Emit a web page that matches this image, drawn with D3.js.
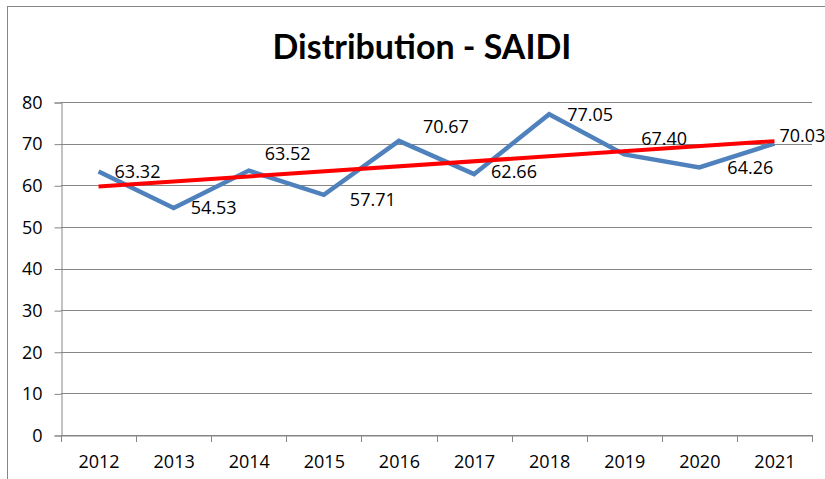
<!DOCTYPE html>
<html><head><meta charset="utf-8">
<script src="https://cdn.jsdelivr.net/npm/d3@7"></script>
<style>html,body{margin:0;padding:0;background:#fff;overflow:hidden}</style>
</head><body>
<svg id="chart" width="825" height="479"></svg>
<script>
const categories = ["2012","2013","2014","2015","2016","2017","2018","2019","2020","2021"];
const saidi = [63.32, 54.53, 63.52, 57.71, 70.67, 62.66, 77.05, 67.40, 64.26, 70.03];
const trendEnds = [59.7, 70.6]; // linear trend at 2012 and 2021
const yTicks = [0,10,20,30,40,50,60,70,80];
const title = "Distribution - SAIDI";
// label placement (dx, dy) relative to each point
const labelOffsets = [[16,0],[17,0],[16,-17],[26,5],[24,-14],[17,-2],[18,0],[17,-16],[28,0],[5,-8]];

const svg = d3.select("#chart");
const font = "'Open Sans', sans-serif";
const grid = "#868686";

svg.append("rect").attr("x",7.5).attr("y",6.5).attr("width",830).attr("height",490)
  .attr("fill","#fff").attr("stroke",grid).attr("stroke-width",1);

const L = 61, R = 812, T = 102, B = 435;
const x = d3.scaleBand().domain(categories).range([L,R]).padding(0);
const y = d3.scaleLinear().domain([0,80]).range([B,T]);

// gridlines
svg.append("g").selectAll("line").data(yTicks).join("line")
  .attr("x1",L).attr("x2",R).attr("y1",d=>Math.round(y(d))+0.5).attr("y2",d=>Math.round(y(d))+0.5)
  .attr("stroke",grid).attr("stroke-width",1);

// y axis
const yAxis = svg.append("g").attr("transform",`translate(${L+0.5},0.5)`)
  .call(d3.axisLeft(y).tickValues(yTicks).tickSize(7).tickPadding(12));
yAxis.select(".domain").attr("stroke",grid);
yAxis.selectAll(".tick line").attr("stroke",grid);
yAxis.selectAll("text").attr("font-family",font).attr("font-size",18).attr("fill","#000");

// x axis
const xAxis = svg.append("g").attr("transform",`translate(0.5,${B+0.5})`)
  .call(d3.axisBottom(x).tickSize(0).tickPadding(20));
xAxis.select(".domain").attr("stroke",grid);
xAxis.selectAll("text").attr("font-family",font).attr("font-size",18).attr("fill","#000");
const bounds = categories.map(c=>x(c)).concat([R]);
svg.append("g").selectAll("line").data(bounds).join("line")
  .attr("x1",d=>Math.round(d)+0.5).attr("x2",d=>Math.round(d)+0.5)
  .attr("y1",B).attr("y2",B+7).attr("stroke",grid);

const cx = c => x(c) + x.bandwidth()/2;

// data line
svg.append("path").datum(saidi)
  .attr("d", d3.line().x((d,i)=>cx(categories[i])).y(d=>y(d)))
  .attr("fill","none").attr("stroke","#4F81BD").attr("stroke-width",4.5).attr("stroke-linejoin","miter");

// trend line
svg.append("line")
  .attr("x1",cx(categories[0])).attr("y1",y(trendEnds[0]))
  .attr("x2",cx(categories[categories.length-1])).attr("y2",y(trendEnds[1]))
  .attr("stroke","#FF0000").attr("stroke-width",4);

// labels
svg.append("g").selectAll("text").data(saidi).join("text")
  .attr("x",(d,i)=>cx(categories[i])+labelOffsets[i][0])
  .attr("y",(d,i)=>y(d)+labelOffsets[i][1])
  .attr("dy","0.35em")
  .attr("font-family",font).attr("font-size",18).attr("fill","#000")
  .text(d=>d.toFixed(2));

// title
const t = svg.append("text").attr("x",422).attr("y",59).attr("text-anchor","middle")
  .attr("font-family","Lato, 'Open Sans', sans-serif").attr("font-weight","bold").attr("font-size",32)
  .attr("fill","#000").text(title);
const w = t.node().getComputedTextLength();
t.attr("font-size", 32*299/w);
</script>
</body></html>
